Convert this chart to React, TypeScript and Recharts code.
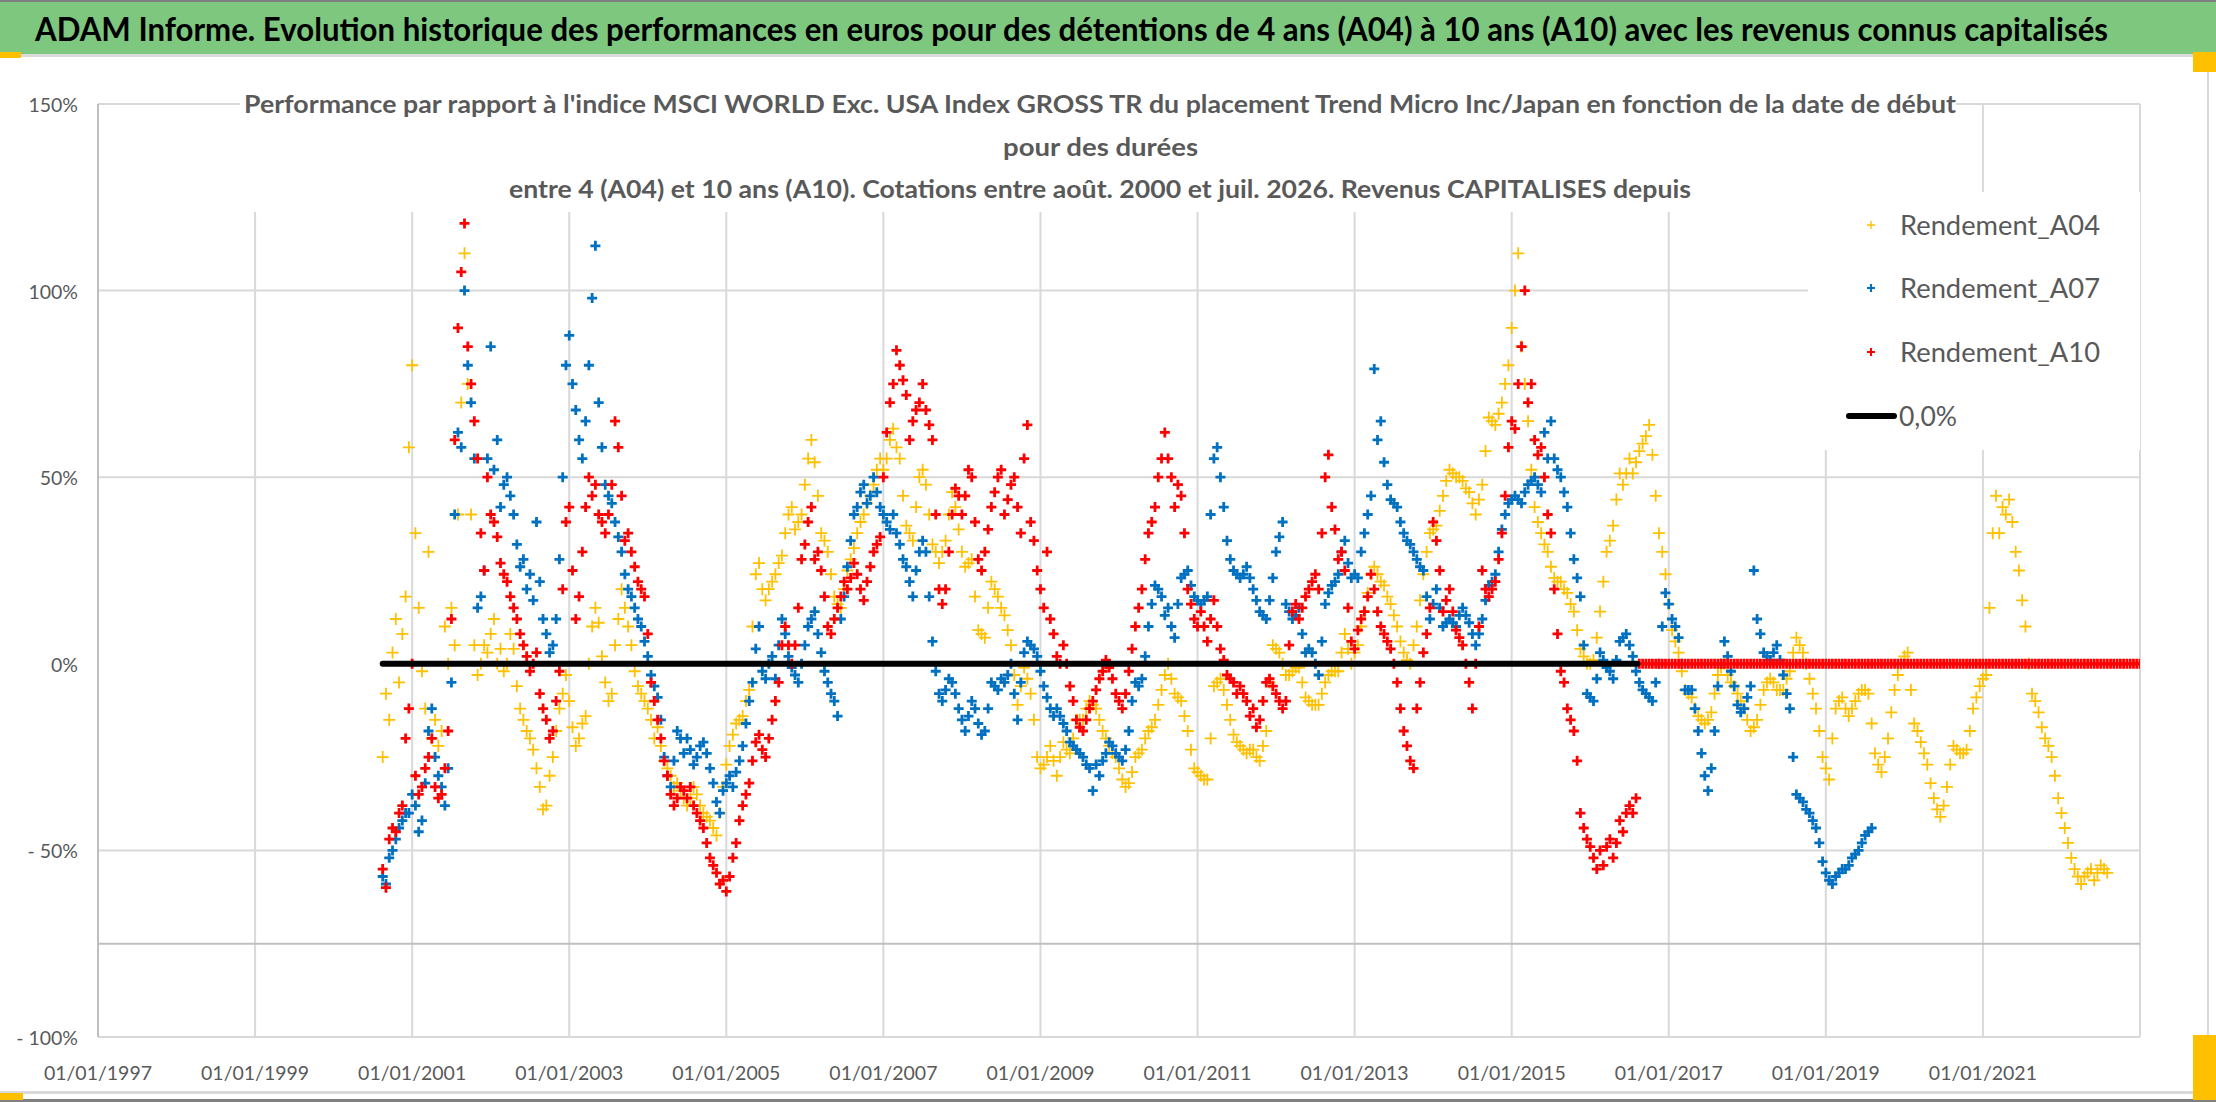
import React from 'react';
import { ComposedChart, Scatter, XAxis, YAxis, CartesianGrid, ReferenceLine, Legend } from 'recharts';

const FONT = "Lato, 'Liberation Sans', sans-serif";
const GREY_TEXT = '#595959';

const TITLE = 'ADAM Informe. Evolution historique des performances en euros pour des détentions de 4 ans (A04) à 10 ans (A10) avec les revenus connus capitalisés';
const SUBTITLE = [
  "Performance par rapport à l'indice MSCI WORLD Exc. USA Index GROSS TR  du placement Trend Micro Inc/Japan en fonction de la date de début",
  'pour des durées',
  'entre 4 (A04) et 10 ans (A10). Cotations entre août. 2000 et juil. 2026. Revenus CAPITALISES depuis',
];

// first observation (Aug 2000); readings taken at the start and middle of each month
const START_YEAR = 2000.625;
const MONTH = 1 / 12;

const xTicks = [1997, 1999, 2001, 2003, 2005, 2007, 2009, 2011, 2013, 2015, 2017, 2019, 2021];
const yTicks = [-100, -50, 0, 50, 100, 150];
const gridValues = [150, 100, 50, -50, -100];

// Rendement_A04 (%), start of each month from Aug 2000
const A04 = [
  -25, -15, 12, 8, 58, 35, -2, 30, -15, -18, 0, 5, 70, 75, 5, 0, 3, 12, 4, 0,
  4, -12, -18, -23, -33, -38, -25, -12, -3, -17, -20, -14, 10, 11, -5, -8, 12, 15, 5, -6,
  -10, -15, -17, -26, -30, -32, -36, -36, -35, -40, -42, -46, -33, -22, -16, -14, -7, 24, 20, 20,
  24, 29, 40, 36, 40, 55, 54, 35, 30, 18, 15, 25, 31, 38, 43, 48, 55, 55, 63, 55,
  37, 33, 50, 48, 32, 27, 33, 46, 36, 26, 28, 9, 7, 22, 18, 13, 5, -11, -1, -8,
  -25, -27, -22, -30, -21, -24, -15, -15, -10, -12, -18, -22, -25, -31, -32, -25, -23, -18, -15, -7,
  0, -8, -10, -18, -28, -30, -31, -6, -4, -11, -19, -22, -24, -23, -26, -18, 5, 3, -3, -2,
  -1, -9, -11, -11, -5, -2, -2, 8, 0, 5, 14, 24, 24, 21, 16, 10, 3, 0, 10, 24,
  35, 37, 45, 52, 50, 49, 46, 40, 48, 66, 64, 70, 80, 100, 85, 65, 42, 35, 30, 23,
  22, 19, 14, 4, 0, 1, 14, 30, 37, 51, 51, 51, 57, 61, 56, 35, 24, 9, 3, -7,
  -9, -14, -16, -13, -3, 0, -5, -8, -12, -18, -15, -7, -4, -7, -7, -2, 7, 3, -4, -12,
  -25, -31, -12, -9, -14, -10, -7, -8, -24, -29, -20, -7, 0, 3, -16, -21, -27, -36, -41, -33,
  -22, -24, -23, -12, -6, -3, 35, 35, 40, 38, 25, 10, -8, -13, -20, -25, -36, -44, -52, -57,
  -57, -55, -56, -55,
];
// Rendement_A04 (%), middle of each month
const A04_MID = [
  -8, 3, -5, 18, 80, 15, -12, -20, -22, 10, 15, 40, 110, 40, -3, 5, 8, 0, -2, 8,
  -6, -15, -20, -28, -39, -30, -18, -8, -10, -22, -16, 0, 15, 2, -10, 5, 20, 10, -2, -8,
  -12, -20, -22, -28, -33, -34, -38, -33, -38, -41, -44, -40, -27, -19, -15, -10, 10, 27, 17, 22,
  27, 35, 42, 38, 48, 60, 45, 33, 24, 16, 20, 28, 35, 40, 45, 52, 52, 60, 58, 45,
  35, 42, 52, 40, 30, 30, 40, 42, 30, 27, 18, 8, 15, 20, 15, 9, -3, -6, -4, -15,
  -28, -25, -26, -25, -23, -20, -15, -12, -11, -15, -20, -24, -28, -33, -29, -24, -20, -17, -11, -3,
  -4, -9, -14, -23, -29, -31, -20, -5, -7, -15, -21, -23, -23, -25, -22, -5, 4, 0, -3, -1,
  -5, -10, -11, -8, -3, -2, 3, 4, 3, 10, 19, 26, 22, 18, 13, 6, 1, 5, 17, 30,
  36, 41, 49, 51, 50, 47, 43, 44, 57, 65, 67, 75, 90, 110, 75, 52, 38, 32, 26, 22,
  20, 16, 9, 2, 0, 7, 22, 33, 44, 48, 55, 54, 59, 64, 45, 30, 16, 6, -2, -8,
  -12, -15, -15, -8, -1, -3, -6, -10, -15, -17, -11, -5, -5, -7, -4, 3, 5, 0, -8, -18,
  -28, -20, -10, -12, -12, -8, -7, -16, -27, -25, -13, -3, 2, -7, -18, -24, -32, -39, -38, -27,
  -23, -24, -18, -9, -4, 15, 45, 42, 44, 30, 17, 0, -10, -17, -22, -30, -40, -48, -55, -59,
  -56, -58, -54, -56,
];

// Rendement_A07 (%), start of each month from Aug 2000
const A07 = [
  -57, -52, -47, -42, -40, -38, -42, -18, -25, -33, -28, 40, 58, 80, 55, 18, 55, 52, 42, 50,
  40, 26, 20, 17, 22, 8, 5, 28, 80, 75, 60, 65, 98, 70, 48, 43, 34, 24, 18, 12,
  6, -3, -9, -25, -33, -18, -24, -23, -25, -21, -28, -37, -34, -30, -29, -22, -10, 4, -2, 0,
  -4, 12, 2, -3, 0, 10, 14, 3, -5, -10, 12, 26, 40, 46, 43, 50, 42, 38, 40, 32,
  26, 18, 30, 30, 6, -8, -7, -5, -12, -18, -10, -16, -18, -5, -7, -5, 0, -15, 3, 5,
  2, -6, -12, -12, -16, -21, -23, -25, -28, -27, -26, -21, -24, -26, -18, -5, -4, 10, 21, 18,
  15, 7, 23, 25, 18, 16, 18, 55, 50, 33, 25, 23, 26, 20, 14, 12, 23, 34, 16, 12,
  15, 3, 3, -3, 16, 21, 24, 33, 23, 23, 35, 45, 60, 54, 44, 42, 35, 32, 28, 25,
  12, 20, 10, 12, 10, 15, 11, 5, 12, 21, 24, 36, 43, 45, 43, 48, 50, 46, 55, 55,
  50, 42, 28, 18, -8, -10, 3, -1, -4, 6, 8, 2, -5, -8, -10, 0, 19, 12, 7, -7,
  -7, -18, -30, -28, -6, 6, -2, -11, -12, -6, 12, 3, 1, 5, -3, -12, -35, -37, -40, -44,
  -53, -58, -57, -55, -54, -51, -48, -45,
];
// Rendement_A07 (%), middle of each month
const A07_MID = [
  -59, -50, -44, -40, -35, -45, -32, -12, -30, -38, -5, 62, 100, 70, 15, 25, 85, 60, 48, 45,
  32, 28, 24, 38, 12, 3, 12, 50, 88, 68, 55, 80, 112, 58, 45, 38, 30, 20, 15, 10,
  2, -6, -15, -30, -26, -20, -20, -27, -22, -24, -32, -40, -32, -33, -26, -16, -5, 10, -4, 2,
  5, 8, -1, -5, 5, 12, 8, -2, -8, -14, 18, 33, 42, 48, 45, 46, 40, 36, 35, 28,
  22, 25, 33, 18, -2, -10, -4, -8, -15, -14, -12, -19, -12, -6, -4, -3, -8, -5, 6, 4,
  -2, -9, -14, -14, -18, -22, -24, -27, -34, -30, -24, -22, -25, -23, -10, -6, 2, 16, 20, 13,
  10, 16, 24, 21, 17, 17, 40, 58, 42, 28, 24, 24, 23, 17, 13, 17, 30, 38, 14, 13,
  8, 4, 0, 6, 19, 22, 30, 27, 24, 30, 40, 79, 65, 48, 43, 38, 33, 30, 26, 18,
  16, 15, 11, 11, 13, 13, 8, 8, 17, 22, 30, 40, 44, 44, 46, 49, 48, 62, 65, 52,
  46, 35, 23, 5, -9, -4, 1, -2, 1, 7, 5, -2, -7, -9, -5, 10, 16, 10, 0, -7,
  -12, -24, -34, -18, 0, 2, -6, -13, -9, 25, 8, 2, 3, 1, -8, -25, -36, -39, -42, -48,
  -56, -59, -56, -55, -52, -50, -46, -44,
];

// Rendement_A10 (%), start of each month from Aug 2000 (0 once the 10-year window is incomplete)
const A10 = [
  -55, -47, -45, -38, -12, -30, -33, -25, -33, -35, -18, 60, 105, 85, 65, 35, 50, 38, 27, 22,
  15, 8, 2, 0, -8, -15, -18, -2, 38, 25, 18, 42, 45, 40, 35, 48, 58, 33, 30, 22,
  18, -5, -15, -26, -35, -36, -34, -33, -40, -44, -52, -56, -58, -57, -48, -38, -32, -21, -23, -20,
  -10, 5, 5, 5, 28, 38, 28, 25, 10, 12, 18, 20, 27, 20, 22, 30, 34, 62, 75, 80,
  72, 65, 70, 68, 60, 20, 20, 40, 45, 45, 50, 28, 30, 42, 50, 40, 48, 42, 55, 38,
  25, 15, 12, 2, 5, -6, -15, -18, -12, -7, -2, -1, -8, -12, -2, 10, 20, 35, 42, 55,
  55, 42, 45, 20, 12, 14, 6, 17, 4, -3, -5, -6, -10, -12, -15, -5, -6, -10, -10, 14,
  12, 18, 22, 20, 50, 42, 28, 25, 6, 9, 14, 24, 14, 8, 4, -5, -18, -26, -12, 3,
  15, 33, 14, 20, 9, 5, -5, 0, 25, 18, 22, 35, 58, 63, 85, 70, 60, 58, 40, 20,
  -2, -12, -18, -40, -47, -52, -50, -49, -52, -42, -40, -40,
  0, 0, 0, 0, 0, 0, 0, 0, 0, 0, 0, 0, 0, 0, 0, 0, 0, 0, 0, 0,
  0, 0, 0, 0, 0, 0, 0, 0, 0, 0, 0, 0, 0, 0, 0, 0, 0, 0, 0, 0,
  0, 0, 0, 0, 0, 0, 0, 0, 0, 0, 0, 0, 0, 0, 0, 0, 0, 0, 0, 0,
  0, 0, 0, 0, 0, 0, 0, 0, 0, 0, 0, 0, 0, 0, 0, 0, 0,
];
// Rendement_A10 (%), middle of each month
const A10_MID = [
  -60, -44, -40, -20, 0, -35, -28, -20, -36, -28, 12, 90, 118, 75, 55, 25, 40, 34, 24, 18,
  12, 5, -2, 3, -12, -20, -10, 20, 42, 12, 30, 50, 48, 38, 40, 65, 45, 35, 26, 20,
  8, -10, -20, -30, -38, -33, -36, -38, -42, -48, -54, -59, -61, -52, -42, -35, -26, -19, -25, -15,
  -5, 10, 0, 15, 32, 42, 30, 18, 8, 15, 22, 23, 24, 17, 26, 32, 50, 70, 84, 76,
  60, 68, 75, 64, 40, 16, 30, 47, 40, 52, 38, 25, 36, 46, 52, 44, 50, 35, 64, 33,
  20, 30, 8, 0, 0, -10, -17, -15, -10, -4, 1, -4, -10, -8, 4, 15, 28, 38, 50, 62,
  50, 48, 35, 16, 10, 10, 12, 10, 1, -4, -8, -8, -14, -17, -10, -4, -8, -12, 5, 16,
  15, 20, 24, 35, 56, 36, 30, 15, 4, 12, 18, 20, 10, 6, 0, -12, -22, -28, -5, 8,
  38, 25, 17, 14, 7, 0, -12, 10, 20, 20, 28, 45, 65, 75, 100, 75, 56, 50, 35, 8,
  -5, -15, -26, -44, -49, -55, -54, -47, -48, -45, -38, -36,
  0, 0, 0, 0, 0, 0, 0, 0, 0, 0, 0, 0, 0, 0, 0, 0, 0, 0, 0, 0,
  0, 0, 0, 0, 0, 0, 0, 0, 0, 0, 0, 0, 0, 0, 0, 0, 0, 0, 0, 0,
  0, 0, 0, 0, 0, 0, 0, 0, 0, 0, 0, 0, 0, 0, 0, 0, 0, 0, 0, 0,
  0, 0, 0, 0, 0, 0, 0, 0, 0, 0, 0, 0, 0, 0, 0, 0, 0,
];

// 0,0% reference series (start and end dates)
const ZERO_DATES = [2000.625, 2016.6];

const toPoints = (start: number[], mid: number[]) => {
  const pts: { x: number; y: number }[] = [];
  start.forEach((v, i) => {
    pts.push({ x: START_YEAR + i * MONTH, y: v });
    if (i < mid.length) pts.push({ x: START_YEAR + (i + 0.5) * MONTH, y: mid[i] });
  });
  return pts;
};
const a04Points = toPoints(A04, A04_MID);
const a07Points = toPoints(A07, A07_MID);
const a10Points = toPoints(A10, A10_MID);
const zeroPoints = ZERO_DATES.map((d) => ({ x: d, y: 0 }));

const SERIES = [
  { name: 'Rendement_A04', color: '#FFC000', half: 6, sw: 1.8 },
  { name: 'Rendement_A07', color: '#0070C0', half: 5, sw: 2.8 },
  { name: 'Rendement_A10', color: '#FF0000', half: 5, sw: 2.8 },
];

const plusShape = (color: string, half: number, sw: number) => (props: any) => {
  const { cx, cy } = props;
  if (cx == null || cy == null) return <g />;
  return (
    <path
      d={`M${cx - half} ${cy}H${cx + half}M${cx} ${cy - half}V${cy + half}`}
      stroke={color}
      strokeWidth={sw}
      fill="none"
    />
  );
};

const XTick = (props: any) => {
  const { x, y, payload } = props;
  return (
    <text x={x} y={y + 43} textAnchor="middle" fill={GREY_TEXT} fontSize={19.5} fontFamily={FONT}>
      {`01/01/${payload.value}`}
    </text>
  );
};

const fmtPct = (v: number) => (v < 0 ? `- ${Math.abs(v)}%` : `${v}%`);

const YTick = (props: any) => {
  const { x, y, payload } = props;
  return (
    <text x={x - 20} y={y + 8} textAnchor="end" fill={GREY_TEXT} fontSize={19.5} fontFamily={FONT}>
      {fmtPct(payload.value)}
    </text>
  );
};

const LegendBox = () => {
  const rowY = [33, 96, 160, 224];
  return (
    <svg width={332} height={258} style={{ display: 'block' }}>
      <rect x={0} y={0} width={332} height={258} fill="#fff" />
      {SERIES.map((s, i) => (
        <g key={s.name}>
          <path
            d={`M${63 - 4} ${rowY[i]}H${63 + 4}M63 ${rowY[i] - 4}V${rowY[i] + 4}`}
            stroke={s.color}
            strokeWidth={s.sw * 0.75}
          />
          <text
            x={92}
            y={rowY[i] + 9.5}
            fontSize={26}
            fontFamily={FONT}
            fill={GREY_TEXT}
            textLength={200}
            lengthAdjust="spacingAndGlyphs"
          >
            {s.name}
          </text>
        </g>
      ))}
      <line x1={41} x2={86} y1={rowY[3]} y2={rowY[3]} stroke="#000" strokeWidth={6} strokeLinecap="round" />
      <text x={91} y={rowY[3] + 9.5} fontSize={26} fontFamily={FONT} fill={GREY_TEXT} textLength={58} lengthAdjust="spacingAndGlyphs">
        0,0%
      </text>
    </svg>
  );
};

export default function App() {
  return (
    <div style={{ position: 'absolute', left: 0, top: 0, width: 2216, height: 1102, background: '#fff', overflow: 'hidden' }}>
      <div style={{ position: 'absolute', left: 0, top: 0 }}>
        <ComposedChart width={2216} height={1102} margin={{ top: 104, right: 76, bottom: 35, left: 0 }}>
          <CartesianGrid stroke="#d9d9d9" strokeWidth={2} horizontalValues={gridValues} />
          <XAxis
            type="number"
            dataKey="x"
            domain={[1997, 2023]}
            ticks={xTicks}
            allowDataOverflow
            height={30}
            tickSize={0}
            tickMargin={0}
            axisLine={false}
            tickLine={false}
            tick={<XTick />}
            interval={0}
          />
          <YAxis
            type="number"
            dataKey="y"
            domain={[-100, 150]}
            ticks={yTicks}
            allowDataOverflow
            width={98}
            tickSize={0}
            tickMargin={0}
            axisLine={{ stroke: '#bfbfbf', strokeWidth: 2 }}
            tickLine={false}
            tick={<YTick />}
            interval={0}
          />
          <ReferenceLine y={-75} stroke="#bfbfbf" strokeWidth={2} />
          <Scatter name="Rendement_A04" data={a04Points} isAnimationActive={false} shape={plusShape(SERIES[0].color, SERIES[0].half, SERIES[0].sw)} />
          <Scatter name="Rendement_A07" data={a07Points} isAnimationActive={false} shape={plusShape(SERIES[1].color, SERIES[1].half, SERIES[1].sw)} />
          <Scatter name="Rendement_A10" data={a10Points} isAnimationActive={false} shape={plusShape(SERIES[2].color, SERIES[2].half, SERIES[2].sw)} />
          <Scatter
            name="0,0%"
            data={zeroPoints}
            isAnimationActive={false}
            line={{ stroke: '#000', strokeWidth: 6, strokeLinecap: 'round' }}
            shape={() => <g />}
          />
          <Legend
            layout="vertical"
            align="center"
            verticalAlign="middle"
            content={() => <LegendBox />}
            wrapperStyle={{ position: 'absolute', left: 1808, top: 192, width: 332, height: 258 }}
          />
        </ComposedChart>
      </div>
      <svg width={2216} height={1102} style={{ position: 'absolute', left: 0, top: 0, pointerEvents: 'none' }}>
        <rect x={0} y={0} width={2216} height={2} fill="#7f7f7f" />
        <rect x={0} y={2} width={2216} height={52} fill="#7ec77e" />
        <rect x={0} y={54} width={2216} height={3} fill="#d9d9d9" />
        <text x={35} y={41} fontSize={32} fontWeight={700} fontFamily={FONT} fill="#000" textLength={2073} lengthAdjust="spacingAndGlyphs">
          {TITLE}
        </text>
        <rect x={2207} y={57} width={2} height={1036} fill="#d9d9d9" />
        <rect x={0} y={1091} width={2209} height={3} fill="#d9d9d9" />
        <rect x={0} y={1099} width={2216} height={3} fill="#808080" />
        <rect x={0} y={52} width={21} height={6} fill="#FFC000" />
        <rect x={2193} y={52} width={23} height={20} fill="#FFC000" />
        <rect x={2193} y={1035} width={23} height={65} fill="#FFC000" />
        <rect x={0} y={1093} width={23} height={7} fill="#FFC000" />
        <rect x={240} y={92} width={1716} height={120} fill="#fff" />
        <text x={244} y={113} fontSize={24} fontWeight={700} fontFamily={FONT} fill={GREY_TEXT} textLength={1712} lengthAdjust="spacingAndGlyphs">
          {SUBTITLE[0]}
        </text>
        <text x={1003} y={155.5} fontSize={24} fontWeight={700} fontFamily={FONT} fill={GREY_TEXT} textLength={195} lengthAdjust="spacingAndGlyphs">
          {SUBTITLE[1]}
        </text>
        <text x={509} y={198} fontSize={24} fontWeight={700} fontFamily={FONT} fill={GREY_TEXT} textLength={1182} lengthAdjust="spacingAndGlyphs">
          {SUBTITLE[2]}
        </text>
      </svg>
    </div>
  );
}
